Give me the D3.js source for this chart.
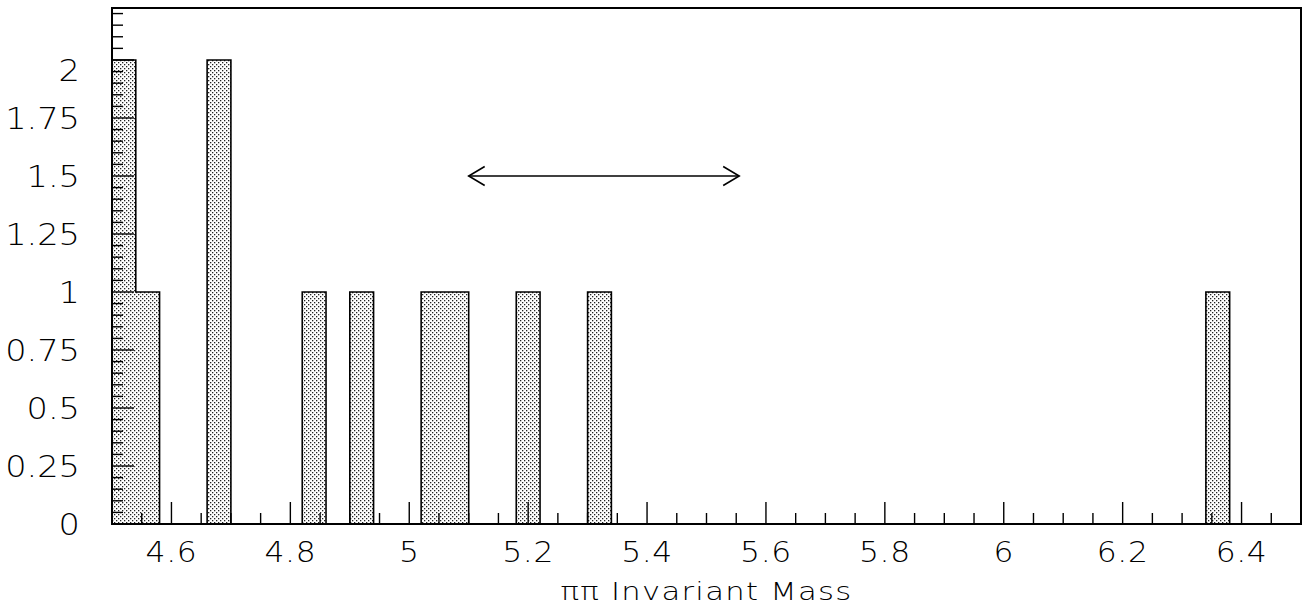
<!DOCTYPE html>
<html>
<head>
<meta charset="utf-8">
<script src="https://cdn.jsdelivr.net/npm/d3@7"></script>
<style>
  html, body { margin: 0; padding: 0; background: #fff; }
  svg { display: block; }
  text { font-family: "DejaVu Sans", sans-serif; font-weight: 200; fill: #000; }
</style>
</head>
<body>
<svg id="chart" width="1308" height="609"></svg>
<script>
// ---- data ----
const binLow   = [4.50, 4.54, 4.66, 4.82, 4.90, 5.02, 5.06, 5.18, 5.30, 6.34];
const counts   = [2,    1,    2,    1,    1,    1,    1,    1,    1,    1];
const binWidth = 0.04;
const xMajorTicks = [4.6, 4.8, 5.0, 5.2, 5.4, 5.6, 5.8, 6.0, 6.2, 6.4];
const xTickLabels = ["4.6", "4.8", "5", "5.2", "5.4", "5.6", "5.8", "6", "6.2", "6.4"];
const yMajorTicks = [0, 0.25, 0.5, 0.75, 1, 1.25, 1.5, 1.75, 2];
const yTickLabels = ["0", "0.25", "0.5", "0.75", "1", "1.25", "1.5", "1.75", "2"];
const arrowX = [5.10, 5.555];
const arrowY = [1.5];
const xTitle = "ππ Invariant Mass";

(function () {
// ---- layout ----
const pL = 112, pR = 1301, pT = 8, pB = 524;
const svg = d3.select("#chart");
const x = d3.scaleLinear().domain([4.5, 6.5]).range([pL, pR]);
const y = d3.scaleLinear().domain([0, 2.224]).range([pB, pT]);

// stipple pattern
const defs = svg.append("defs");
const pat = defs.append("pattern").attr("id", "stip")
  .attr("patternUnits", "userSpaceOnUse").attr("width", 4).attr("height", 4);
pat.append("rect").attr("width", 4).attr("height", 4).attr("fill", "#fff");
pat.append("rect").attr("x", 0).attr("y", 0).attr("width", 1.3).attr("height", 1.3).attr("fill", "#222");
pat.append("rect").attr("x", 2).attr("y", 2).attr("width", 1.3).attr("height", 1.3).attr("fill", "#222");

// bars (fill)
const bins = binLow.map((b, i) => ({ x0: b, x1: b + binWidth, n: counts[i] }));
svg.append("g").selectAll("rect").data(bins).join("rect")
  .attr("x", d => x(d.x0)).attr("width", d => x(d.x1) - x(d.x0))
  .attr("y", d => y(d.n)).attr("height", d => y(0) - y(d.n))
  .attr("fill", "url(#stip)");

// histogram outline (step contour)
const sorted = bins.slice().sort((a, b) => a.x0 - b.x0);
const pts = [[4.5, 0]];
let prevEnd = 4.5;
sorted.forEach(d => {
  if (Math.abs(d.x0 - prevEnd) > 1e-9) { pts.push([prevEnd, 0]); pts.push([d.x0, 0]); }
  pts.push([d.x0, d.n]); pts.push([d.x1, d.n]);
  prevEnd = d.x1;
});
pts.push([prevEnd, 0]);
svg.append("path")
  .attr("d", d3.line().x(p => x(p[0])).y(p => y(p[1]))(pts))
  .attr("fill", "none").attr("stroke", "#000").attr("stroke-width", 1.6);

// ticks
const xMinor = d3.range(0, 41).map(i => 4.5 + i * 0.05).filter(v => v > 4.49 && v < 6.51);
const isMajorX = v => xMajorTicks.some(t => Math.abs(t - v) < 1e-6);
svg.append("g").selectAll("line").data(xMinor).join("line")
  .attr("x1", d => x(d)).attr("x2", d => x(d))
  .attr("y1", pB).attr("y2", d => pB - (isMajorX(d) ? 22 : 11))
  .attr("stroke", "#000").attr("stroke-width", 1.4);

const yMinor = d3.range(0, 45).map(i => i * 0.05).filter(v => v <= 2.224);
const isMajorY = v => yMajorTicks.some(t => Math.abs(t - v) < 1e-6);
svg.append("g").selectAll("line").data(yMinor).join("line")
  .attr("y1", d => y(d)).attr("y2", d => y(d))
  .attr("x1", pL).attr("x2", d => pL + (isMajorY(d) ? 22 : 11))
  .attr("stroke", "#000").attr("stroke-width", 1.4);

// frame
svg.append("rect").attr("x", pL).attr("y", pT)
  .attr("width", pR - pL).attr("height", pB - pT)
  .attr("fill", "none").attr("stroke", "#000").attr("stroke-width", 2);

// tick labels (horizontally widened to mimic the stroke font)
const sxX = 1.1;
svg.append("g").selectAll("text").data(xMajorTicks).join("text")
  .attr("transform", d => `translate(${x(d)},561.5) scale(${sxX},1)`)
  .attr("text-anchor", "middle").attr("font-size", 28.5)
  .attr("letter-spacing", 0.6)
  .text((d, i) => xTickLabels[i]);

const sxY = 1.12;
svg.append("g").selectAll("text").data(yMajorTicks).join("text")
  .attr("transform", d => `translate(80,${y(d) + (d === 2 ? 10.5 : 0)}) scale(${sxY},1)`)
  .attr("dy", "0.36em")
  .attr("text-anchor", "end").attr("font-size", 30)
  .text((d, i) => yTickLabels[i]);

// axis title
const sxT = 1.2;
svg.append("text")
  .attr("transform", `translate(${(pL + pR) / 2},600) scale(${sxT},1)`)
  .attr("text-anchor", "middle").attr("font-size", 25.5)
  .attr("letter-spacing", 1.1)
  .text(xTitle);

// double-headed arrow
const ay = y(arrowY[0]), ax0 = x(arrowX[0]), ax1 = x(arrowX[1]);
const g = svg.append("g").attr("stroke", "#000").attr("stroke-width", 1.6).attr("fill", "none");
g.append("line").attr("x1", ax0).attr("x2", ax1).attr("y1", ay).attr("y2", ay);
g.append("path").attr("d", `M${ax0 + 16},${ay - 9.5}L${ax0},${ay}L${ax0 + 16},${ay + 9.5}`);
g.append("path").attr("d", `M${ax1 - 16},${ay - 9.5}L${ax1},${ay}L${ax1 - 16},${ay + 9.5}`);
})();
</script>
</body>
</html>
